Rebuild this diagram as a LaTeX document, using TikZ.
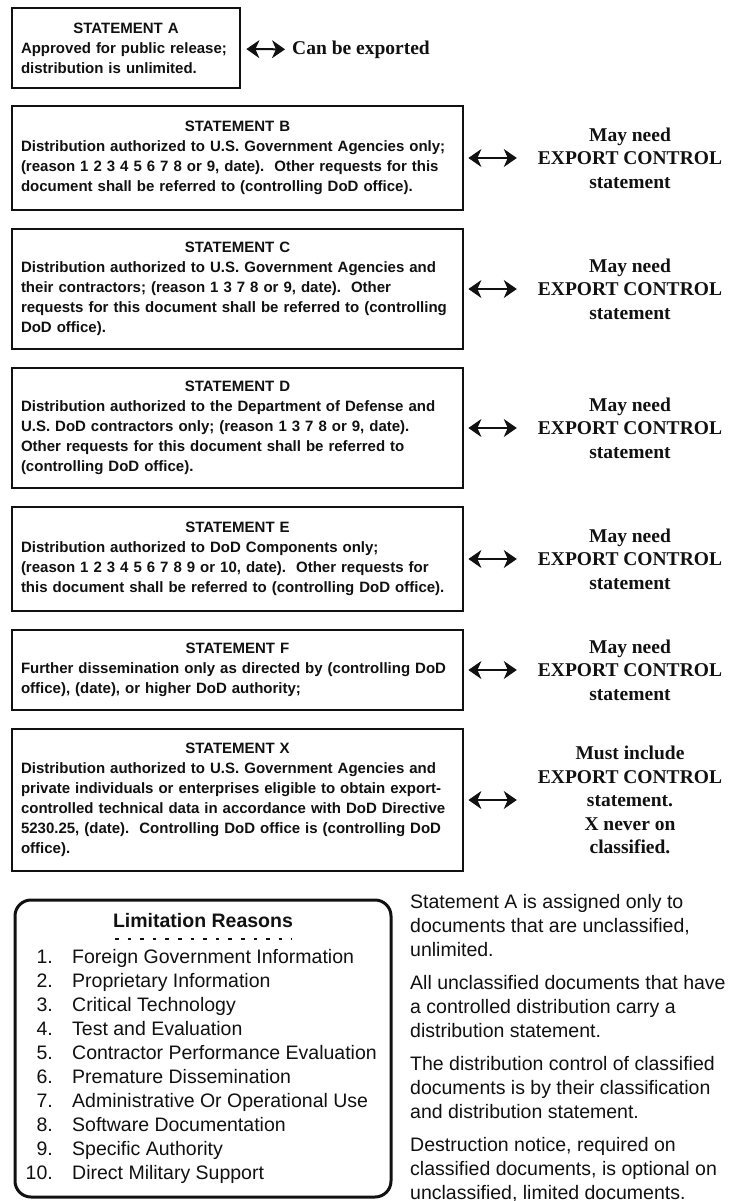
\documentclass[tikz,border=0pt]{standalone}
\usepackage{fontspec}
\setmainfont{Liberation Sans}
\newfontfamily\notefont{Liberation Serif}
\usepackage{xcolor}
\usepackage{tikz}
\usetikzlibrary{arrows.meta}
\definecolor{ink}{HTML}{111111}
\definecolor{paper}{HTML}{FFFFFF}
\tikzset{
  stmt/.style={draw=ink, line width=2.8pt, align=left, inner xsep=9pt, inner ysep=0pt, text=ink, text width=433pt, font=\bfseries\fontsize{15}{20}\selectfont},
  stmta/.style={stmt, text width=210pt},
  note/.style={text=ink, align=center, inner sep=0pt, font=\notefont\bfseries\fontsize{19.5}{23.5}\selectfont},
  link/.style={draw=ink, line width=2pt, {Stealth[length=13pt,width=18pt,inset=4pt,line width=1pt]}-{Stealth[length=13pt,width=18pt,inset=4pt,line width=1pt]}, shorten <=4pt, shorten >=21pt},
  lim/.style={draw=ink, line width=3pt, rounded corners=16pt},
  dots/.style={draw=ink, line width=2.6pt, dash pattern=on 3.5pt off 9.1pt},
  body/.style={text=ink, inner sep=0pt, font=\fontsize{19.5}{24}\selectfont},
}

\begin{document}
\begin{tikzpicture}[x=1pt,y=-1pt]
  \fill[paper] (0,0) rectangle (732,1201);
  \useasboundingbox (0,0) rectangle (732,1201);

  \node[stmta, minimum height=80pt] (stA) at (126,48) {{\centering STATEMENT A\par}Approved for public release;\\ distribution is unlimited.};
  \node[note, anchor=west] (noteA) at (292,50) {Can be exported};
  \draw[link, shorten <=5pt, shorten >=7pt] (stA) -- (noteA);

  \node[stmt, minimum height=104pt] (stB) at (237.5,158) {{\centering STATEMENT B\par}Distribution authorized to U.S. Government Agencies only;\\ (reason 1 2 3 4 5 6 7 8 or 9, date).\ \ Other requests for this\\ document shall be referred to (controlling DoD office).};
  \node[note] (noteB) at (630,158) {May need\\ EXPORT CONTROL\\ statement};
  \draw[link] (stB) -- (noteB);

  \node[stmt, minimum height=120pt] (stC) at (237.5,289) {{\centering STATEMENT C\par}Distribution authorized to U.S. Government Agencies and\\ their contractors; (reason 1 3 7 8 or 9, date).\ \ Other\\ requests for this document shall be referred to (controlling\\ DoD office).};
  \node[note] (noteC) at (630,289) {May need\\ EXPORT CONTROL\\ statement};
  \draw[link] (stC) -- (noteC);

  \node[stmt, minimum height=120pt] (stD) at (237.5,428) {{\centering STATEMENT D\par}Distribution authorized to the Department of Defense and\\ U.S. DoD contractors only; (reason 1 3 7 8 or 9, date).\\ Other requests for this document shall be referred to\\ (controlling DoD office).};
  \node[note] (noteD) at (630,428) {May need\\ EXPORT CONTROL\\ statement};
  \draw[link] (stD) -- (noteD);

  \node[stmt, minimum height=104pt] (stE) at (237.5,559) {{\centering STATEMENT E\par}Distribution authorized to DoD Components only;\\ (reason 1 2 3 4 5 6 7 8 9 or 10, date).\ \ Other requests for\\ this document shall be referred to (controlling DoD office).};
  \node[note] (noteE) at (630,559) {May need\\ EXPORT CONTROL\\ statement};
  \draw[link] (stE) -- (noteE);

  \node[stmt, minimum height=80pt] (stF) at (237.5,670) {{\centering STATEMENT F\par}Further dissemination only as directed by (controlling DoD\\ office), (date), or higher DoD authority;};
  \node[note] (noteF) at (630,670) {May need\\ EXPORT CONTROL\\ statement};
  \draw[link] (stF) -- (noteF);

  \node[stmt, minimum height=142pt] (stX) at (237.5,800) {{\centering STATEMENT X\par}Distribution authorized to U.S. Government Agencies and\\ private individuals or enterprises eligible to obtain export-\\ controlled technical data in accordance with DoD Directive\\ 5230.25, (date).\ \ Controlling DoD office is (controlling DoD\\ office).};
  \node[note] (noteX) at (630,800) {Must include\\ EXPORT CONTROL\\ statement.\\ X never on\\ classified.};
  \draw[link] (stX) -- (noteX);

  \draw[lim] (15,900) rectangle (391,1197);
  \node[body, font=\bfseries\fontsize{19.5}{24}\selectfont] (limtitle) at (203,921) {Limitation Reasons};
  \draw[dots] (115,939) -- (292,939);
  \foreach \txt [count=\i] in {Foreign Government Information, Proprietary Information, Critical Technology, Test and Evaluation, Contractor Performance Evaluation, Premature Dissemination, Administrative Or Operational Use, Software Documentation, Specific Authority, Direct Military Support}{
    \node[body, anchor=mid east] (num\i) at (53,{937+24*\i}) {\i.};
    \node[body, anchor=mid west] (reason\i) at (72,{937+24*\i}) {\txt};
  }

  \node[body, align=left, anchor=north west] (remarks) at (410,894) {Statement A is assigned only to\\ documents that are unclassified,\\ unlimited.\\[9pt] All unclassified documents that have\\ a controlled distribution carry a\\ distribution statement.\\[9pt] The distribution control of classified\\ documents is by their classification\\ and distribution statement.\\[9pt] Destruction notice, required on\\ classified documents, is optional on\\ unclassified, limited documents.};
\end{tikzpicture}
\end{document}
